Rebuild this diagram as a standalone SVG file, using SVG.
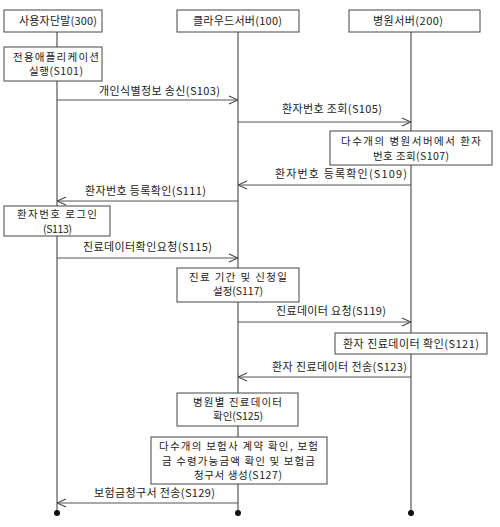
<svg xmlns="http://www.w3.org/2000/svg" width="500" height="527" viewBox="0 0 500 527">
<defs>
<style>
text{font-family:"Noto Sans CJK KR","Noto Sans",sans-serif;font-size:11px;fill:#222;}
.m{font-size:10.5px;}
.box{fill:#fff;stroke:#444;stroke-width:1;}
.life{stroke:#555;stroke-width:1.2;fill:none;}
.msg{stroke:#555;stroke-width:1;fill:none;marker-end:url(#arr);}
.dot{fill:#111;}
</style>
<marker id="arr" viewBox="0 0 10 10" refX="10" refY="5" markerWidth="10" markerHeight="10" markerUnits="userSpaceOnUse" orient="auto">
<path d="M1,1 L10,5 L1,9" fill="none" stroke="#444" stroke-width="1.1"/>
</marker>
</defs>
<rect width="500" height="527" fill="#fff"/>
<g id="lifelines">
<line class="life" x1="57" y1="32" x2="57" y2="513"/>
<line class="life" x1="238" y1="32" x2="238" y2="513"/>
<line class="life" x1="411" y1="32" x2="411" y2="513"/>
<circle class="dot" cx="57" cy="513" r="3"/>
<circle class="dot" cx="238" cy="513" r="3"/>
<circle class="dot" cx="411" cy="513" r="3"/>
</g>
<g id="user"><rect class="box" x="4" y="10" width="98" height="22"/><text x="19" y="25" textLength="78" lengthAdjust="spacing">사용자단말(300)</text></g>
<g id="cloud"><rect class="box" x="177" y="10" width="122" height="22"/><text x="193" y="25" textLength="89" lengthAdjust="spacing">클라우드서버(100)</text></g>
<g id="hospital"><rect class="box" x="349" y="10" width="131" height="22"/><text x="373" y="25" textLength="70" lengthAdjust="spacing">병원서버(200)</text></g>
<g id="S101"><rect class="box" x="4" y="47" width="98" height="34"/><text class="m" x="13" y="60.5" textLength="86" lengthAdjust="spacing">전용애플리케이션</text><text class="m" x="29" y="75" textLength="54" lengthAdjust="spacing">실행(S101)</text></g>
<g id="S107"><rect class="box" x="330" y="131" width="162" height="34"/><text class="m" x="341" y="145" textLength="140" lengthAdjust="spacing">다수개의 병원서버에서 환자</text><text class="m" x="373" y="159.5" textLength="76" lengthAdjust="spacing">번호 조회(S107)</text></g>
<g id="S113"><rect class="box" x="4" y="206" width="106" height="30"/><text class="m" x="17" y="218" textLength="80" lengthAdjust="spacing">환자번호 로그인</text><text class="m" x="43" y="232.5" textLength="29" lengthAdjust="spacing">(S113)</text></g>
<g id="S117"><rect class="box" x="177" y="268" width="122" height="34"/><text class="m" x="189" y="280.5" textLength="98" lengthAdjust="spacing">진료 기간 및 신청일</text><text class="m" x="213" y="295" textLength="50" lengthAdjust="spacing">설정(S117)</text></g>
<g id="S121"><rect class="box" x="335" y="333" width="152" height="21"/><text x="343" y="348" textLength="136" lengthAdjust="spacing">환자 진료데이터 확인(S121)</text></g>
<g id="S125"><rect class="box" x="177" y="393" width="121" height="33"/><text class="m" x="193" y="405.5" textLength="89" lengthAdjust="spacing">병원별 진료데이터</text><text class="m" x="213" y="420" textLength="50" lengthAdjust="spacing">확인(S125)</text></g>
<g id="S127"><rect class="box" x="151" y="437" width="176" height="47"/><text class="m" x="159" y="450" textLength="159" lengthAdjust="spacing">다수개의 보험사 계약 확인, 보험</text><text class="m" x="162" y="464.5" textLength="153" lengthAdjust="spacing">금 수령가능금액 확인 및 보험금</text><text class="m" x="194" y="479" textLength="88" lengthAdjust="spacing">청구서 생성(S127)</text></g>
<g id="connectors">
<line class="msg" x1="57" y1="100" x2="238" y2="100"/>
<text x="99" y="95" textLength="121" lengthAdjust="spacing">개인식별정보 송신(S103)</text>
<line class="msg" x1="238" y1="122" x2="411" y2="122"/>
<text x="282" y="113" textLength="100" lengthAdjust="spacing">환자번호 조회(S105)</text>
<line class="msg" x1="411" y1="185" x2="238" y2="185"/>
<text x="275" y="178" textLength="132" lengthAdjust="spacing">환자번호 등록확인(S109)</text>
<line class="msg" x1="238" y1="201" x2="57" y2="201"/>
<text x="85" y="195" textLength="121" lengthAdjust="spacing">환자번호 등록확인(S111)</text>
<line class="msg" x1="57" y1="258" x2="238" y2="258"/>
<text x="83" y="251" textLength="129" lengthAdjust="spacing">진료데이터확인요청(S115)</text>
<line class="msg" x1="238" y1="322" x2="411" y2="322"/>
<text x="276" y="315" textLength="110" lengthAdjust="spacing">진료데이터 요청(S119)</text>
<line class="msg" x1="411" y1="377" x2="238" y2="377"/>
<text x="272" y="371" textLength="135" lengthAdjust="spacing">환자 진료데이터 전송(S123)</text>
<line class="msg" x1="238" y1="503" x2="57" y2="503"/>
<text x="94" y="497" textLength="121" lengthAdjust="spacing">보험금청구서 전송(S129)</text>
</g>
</svg>
